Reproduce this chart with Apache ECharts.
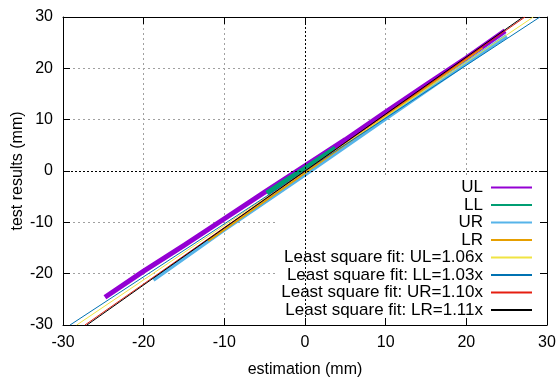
<!DOCTYPE html>
<html>
<head>
<meta charset="utf-8">
<script src="https://cdn.jsdelivr.net/npm/echarts@6/dist/echarts.min.js"></script>
<style>
  html, body { margin: 0; padding: 0; background: #ffffff; }
  #chart { width: 558px; height: 378px; }
</style>
</head>
<body>
<div id="chart"></div>
<script>
// Axis range and grid positions (mm)
const axisMin = -30;
const axisMax = 30;
const axisStep = 10;
const gridValues = [-20, -10, 10, 20];

// Measured sweeps: [estimation, test result] in mm
const seriesNames = ['UL', 'LL', 'UR', 'LR'];
const ulPoints = [[-24.8, -24.6], [-20, -19.5], [-15, -14.5], [-10, -9.3], [-5, -4.1], [0, 1.0], [5, 6.1], [10, 11.5], [15, 16.8], [20, 22.0], [24.8, 27.3]];
const llPoints = [[-4.7, -4.4], [-2, -1.6], [0, 0.4], [2, 2.5], [3.8, 4.4]];
const urPoints = [[-18.8, -21.2], [-10, -11.4], [0, -0.7], [10, 10.2], [20, 21.0], [25, 26.3]];
const lrPoints = [[-12, -13.6], [0, -0.4], [12, 12.9], [22, 24.0]];

// Least square fits through the origin: y = k * x
const fitNames = ['Least square fit: UL=1.06x', 'Least square fit: LL=1.03x', 'Least square fit: UR=1.10x', 'Least square fit: LR=1.11x'];
const fitSlopes = [1.06, 1.03, 1.10, 1.11];

const dataColors = ['#9400D3', '#009E73', '#56B4E9', '#E69F00'];
const fitColors = ['#F0E442', '#0072B2', '#E51E10', '#000000'];
const dataWidths = [5, 6, 4, 2];

const font = 'Liberation Sans, Arial, sans-serif';
const chart = echarts.init(document.getElementById('chart'), null, { renderer: 'canvas' });

function fitLine(k) {
  // the fit line spans the plot until it leaves the y range
  return [[axisMin / k, axisMin], [axisMax / k, axisMax]];
}

const baseAxis = {
  type: 'value',
  min: axisMin,
  max: axisMax,
  interval: axisStep,
  z: 3,
  nameMoveOverlap: false,
  axisLine: { show: true, onZero: false, lineStyle: { color: '#000', width: 1 } },
  axisTick: { show: true, inside: true, length: 7, lineStyle: { color: '#000', width: 1 } },
  splitLine: { show: false },
  axisLabel: { show: true, color: '#000', fontSize: 16, fontFamily: font, margin: 10 }
};

const dottedGrid = { type: [2, 3], color: '#a0a0a0', width: 1 };
const dottedZero = { type: [2, 2], color: '#000000', width: 1 };

const series = [];

// background grid (under the key box)
series.push({
  name: '_grid',
  type: 'line',
  data: [],
  z: 1,
  silent: true,
  markLine: {
    z: 1,
    silent: true,
    symbol: ['none', 'none'],
    label: { show: false },
    animation: false,
    lineStyle: dottedGrid,
    data: gridValues.map(v => ({ xAxis: v })).concat(gridValues.map(v => ({ yAxis: v })))
  }
});

const dataSets = [ulPoints, llPoints, urPoints, lrPoints];
dataSets.forEach((pts, i) => {
  series.push({
    name: seriesNames[i],
    type: 'line',
    data: pts,
    showSymbol: false,
    symbol: 'none',
    z: 4 + i,
    clip: true,
    color: dataColors[i],
    lineStyle: { color: dataColors[i], width: dataWidths[i], cap: 'butt', join: 'round' }
  });
});

fitSlopes.forEach((k, i) => {
  series.push({
    name: fitNames[i],
    type: 'line',
    data: fitLine(k),
    showSymbol: false,
    symbol: 'none',
    z: 10 + i,
    clip: true,
    color: fitColors[i],
    lineStyle: { color: fitColors[i], width: 1 }
  });
});

// zero axes drawn on top
series.push({
  name: '_zero',
  type: 'line',
  data: [],
  z: 20,
  silent: true,
  markLine: {
    z: 20,
    silent: true,
    symbol: ['none', 'none'],
    label: { show: false },
    animation: false,
    lineStyle: dottedZero,
    data: [{ xAxis: 0 }, { yAxis: 0 }]
  }
});

chart.setOption({
  animation: false,
  backgroundColor: '#ffffff',
  textStyle: { fontFamily: font },
  grid: { left: 63, right: 11, top: 17, bottom: 53, containLabel: false, outerBoundsMode: 'none' },
  xAxis: [
    Object.assign({}, baseAxis, {
      position: 'bottom',
      name: 'estimation (mm)',
      nameLocation: 'middle',
      nameGap: 37,
      nameTextStyle: { color: '#000', fontSize: 16, fontFamily: font }
    }),
    Object.assign({}, baseAxis, { position: 'top', axisLabel: { show: false } })
  ],
  yAxis: [
    Object.assign({}, baseAxis, {
      position: 'left',
      name: 'test results (mm)',
      nameLocation: 'middle',
      nameGap: 37,
      nameTextStyle: { color: '#000', fontSize: 16, fontFamily: font }
    }),
    Object.assign({}, baseAxis, { position: 'right', axisLabel: { show: false } })
  ],
  legend: {
    show: true,
    orient: 'vertical',
    align: 'right',
    right: 26,
    top: 179,
    padding: 0,
    itemGap: 0.5,
    itemWidth: 41,
    itemHeight: 2,
    icon: 'rect',
    selectedMode: false,
    data: seriesNames.concat(fitNames),
    textStyle: { color: '#000', fontSize: 17, lineHeight: 17, fontFamily: font, padding: [0, 3, 0, 0] }
  },
  graphic: [{
    type: 'rect',
    z: 2,
    silent: true,
    shape: { x: 277, y: 178, width: 269, height: 146 },
    style: { fill: '#ffffff' }
  }],
  series: series
});
</script>
</body>
</html>
